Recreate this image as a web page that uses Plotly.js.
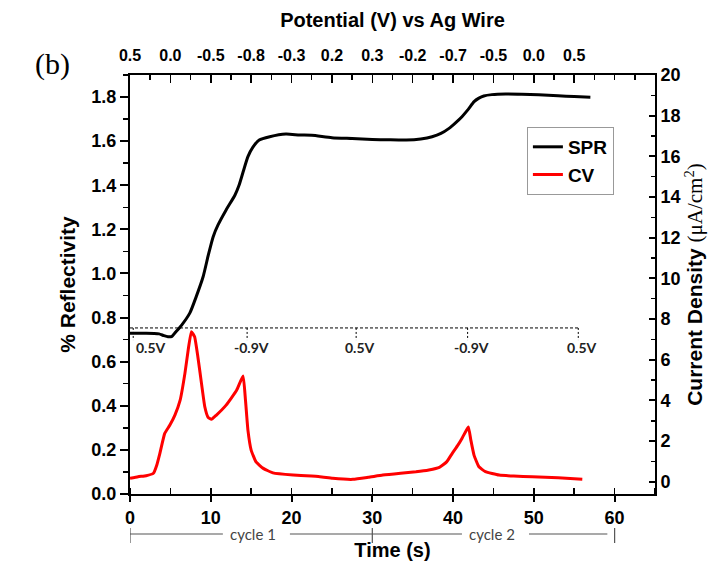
<!DOCTYPE html>
<html>
<head>
<meta charset="utf-8">
<script src="https://cdn.plot.ly/plotly-3.0.1.min.js"></script>
<style>html,body{margin:0;padding:0;background:#fff;}#chart{width:721px;height:561px;}</style>
</head>
<body>
<div id="chart"></div>
<script>
// SPR reflectivity (left axis) vs time
const sprTime = [0, 1, 2, 3, 3.6, 4.2, 4.7, 5.2, 5.6, 6.4, 7.4, 8.2, 9.05, 9.7, 10.3, 10.9, 11.9, 13.0, 13.5, 14.0, 14.6, 15.2, 16.0, 17.3, 19.3, 21, 22.5, 25, 27.5, 30, 32, 34.2, 36, 37.4, 38.5, 39.5, 40.3, 41.1, 41.9, 42.6, 43.2, 43.8, 44.8, 46.5, 48.5, 50.6, 53, 55, 57];
const sprValue = [0.729, 0.729, 0.729, 0.728, 0.726, 0.718, 0.713, 0.715, 0.732, 0.766, 0.82, 0.895, 0.985, 1.084, 1.167, 1.22, 1.288, 1.356, 1.40, 1.46, 1.53, 1.572, 1.605, 1.62, 1.632, 1.628, 1.627, 1.616, 1.612, 1.608, 1.606, 1.605, 1.610, 1.62, 1.635, 1.658, 1.683, 1.711, 1.745, 1.779, 1.795, 1.805, 1.811, 1.814, 1.813, 1.81, 1.806, 1.802, 1.799];

// CV current density (right axis) vs time
const cvTime = [0, 1, 2, 2.9, 3.3, 3.7, 4.3, 4.94, 5.56, 6.2, 6.8, 7.2, 7.6, 8.0, 8.4, 8.85, 9.26, 9.67, 10.08, 10.7, 11.9, 13.2, 14.0, 14.3, 14.6, 15.0, 15.6, 16.5, 17.7, 20.2, 23.5, 25.1, 27.6, 29.5, 31.3, 33.5, 35.4, 37, 38.3, 39.2, 39.9, 40.6, 41.1, 41.6, 41.9, 42.2, 42.6, 43.2, 44, 45.7, 47.5, 49.8, 53, 56];
const cvValue = [0.17, 0.25, 0.3, 0.42, 0.8, 1.4, 2.38, 2.79, 3.28, 4.0, 5.33, 6.47, 7.38, 7.13, 6.15, 4.84, 3.69, 3.17, 3.07, 3.28, 3.77, 4.5, 5.2, 4.0, 2.54, 1.56, 0.98, 0.66, 0.44, 0.33, 0.25, 0.17, 0.12, 0.22, 0.33, 0.42, 0.49, 0.58, 0.71, 0.98, 1.4, 1.8, 2.13, 2.5, 2.7, 2.05, 1.3, 0.74, 0.5, 0.33, 0.28, 0.25, 0.2, 0.13];

// Top axis: applied potential labels
const potentialTickTimes = [0, 5, 10, 15, 20, 25, 30, 35, 40, 45, 50, 55];
const potentialTickLabels = ['0.5', '0.0', '-0.5', '-0.8', '-0.3', '0.2', '0.3', '-0.2', '-0.7', '-0.5', '0.0', '0.5'];

// Dashed potential marker line
const markerLevel = 0.753;
const markerStart = 0;
const markerEnd = 55.5;
const markerTimes = [0.4, 14.5, 28, 41.8, 55.5];
const markerLabels = ['0.5V', '-0.9V', '0.5V', '-0.9V', '0.5V'];

// Cycle bracket below the time axis
const cycleBounds = [0, 30, 60];
const cycleLabels = ['cycle 1', 'cycle 2'];
const cycleLabelTimes = [15.2, 44.8];

const FONT = 'Liberation Sans, Arial, sans-serif';
const CAL = 'Lato, Carlito, sans-serif';

const traces = [
  {x: sprTime, y: sprValue, name: 'SPR', mode: 'lines', line: {color: '#000000', width: 3, shape: 'spline', smoothing: 0.6}, xaxis: 'x', yaxis: 'y'},
  {x: cvTime, y: cvValue, name: 'CV', mode: 'lines', line: {color: '#ff0000', width: 3, shape: 'spline', smoothing: 0.4}, xaxis: 'x', yaxis: 'y2'},
  {x: [markerStart, markerEnd], y: [markerLevel, markerLevel], name: 'potential marker', mode: 'lines', showlegend: false,
    hoverinfo: 'skip', line: {color: '#000', width: 1, dash: '3px,2px'}, xaxis: 'x2', yaxis: 'y'}
];

const shapes = [];
const annotations = [];
markerTimes.forEach((t, i) => {
  shapes.push({type: 'line', xref: 'x', yref: 'y', x0: t, x1: t, y0: markerLevel, y1: markerLevel - 0.055,
    line: {color: '#000', width: 1, dash: '2px,2px'}});
  annotations.push({xref: 'x', yref: 'y', x: t, y: markerLevel - 0.09, text: markerLabels[i], showarrow: false,
    xanchor: i === 0 ? 'left' : 'center', xshift: i === 0 ? 1 : 4,
    font: {family: CAL, size: 14, color: '#222', weight: 'bold'}});
});

const cy = -0.0955, cyt0 = -0.081, cyt1 = -0.117;
const gapL = 3.7, gapR = 4.6;
const segStarts = [cycleBounds[0], cycleLabelTimes[0] + gapR, cycleLabelTimes[1] + gapR];
const segEnds = [cycleLabelTimes[0] - gapL, cycleLabelTimes[1] - gapL, cycleBounds[2] - 0.9];
segStarts.forEach((s, i) => {
  shapes.push({type: 'line', xref: 'x', yref: 'paper', x0: s, x1: segEnds[i], y0: cy, y1: cy, line: {color: '#555', width: 1.2}});
});
cycleBounds.forEach(b => {
  shapes.push({type: 'line', xref: 'x', yref: 'paper', x0: b, x1: b, y0: cyt0, y1: cyt1, line: {color: '#555', width: 1.2}});
});
cycleLabels.forEach((lab, i) => {
  annotations.push({xref: 'x', yref: 'paper', x: cycleLabelTimes[i], y: cy, text: lab, showarrow: false,
    yanchor: 'middle', font: {family: CAL, size: 15, color: '#444'}});
});

annotations.push({xref: 'paper', yref: 'paper', x: -0.185, y: 1.072, text: '(b)', showarrow: false,
  font: {family: 'Liberation Serif, Times New Roman, serif', size: 30, color: '#000'}});

const tickFont = {family: FONT, size: 18, color: '#000', weight: 'bold'};
const titleFont = {family: FONT, size: 20, color: '#000', weight: 'bold'};

const layout = {
  width: 721, height: 561,
  margin: {l: 130, r: 66, t: 75, b: 67},
  paper_bgcolor: '#fff', plot_bgcolor: '#fff',
  showlegend: true,
  legend: {x: 0.756, y: 0.876, xanchor: 'left', yanchor: 'top', bgcolor: '#fff', bordercolor: '#999', borderwidth: 1,
    font: {family: FONT, size: 19, color: '#000', weight: 'bold'}, tracegroupgap: 0},
  xaxis: {range: [0, 65], tick0: 0, dtick: 10, ticks: 'outside', ticklen: 6, tickwidth: 2, tickcolor: '#000',
    minor: {dtick: 5, ticks: 'inside', ticklen: 6, tickwidth: 1.5, tickcolor: '#000'},
    showline: true, linewidth: 2, linecolor: '#000', showgrid: false, zeroline: false,
    tickfont: tickFont, title: {text: 'Time (s)', font: titleFont, standoff: 20}},
  xaxis2: {overlaying: 'x', anchor: 'y', side: 'top', range: [0, 65], tickmode: 'array',
    tickvals: potentialTickTimes, ticktext: potentialTickLabels, ticks: 'inside', ticklen: 8, tickwidth: 1.5, tickcolor: '#000',
    minor: {tick0: 0, dtick: 2.5, ticks: 'inside', ticklen: 5, tickwidth: 1.5, tickcolor: '#000'},
    showline: true, linewidth: 2, linecolor: '#000', showgrid: false, zeroline: false,
    ticklabelstandoff: 6,
    tickfont: {family: FONT, size: 16, color: '#000', weight: 'bold'},
    title: {text: 'Potential (V) vs Ag Wire', font: titleFont, standoff: 14}},
  yaxis: {range: [0, 1.9], tick0: 0, dtick: 0.2, tickformat: '.1f', ticks: 'outside', ticklen: 8, tickwidth: 2, tickcolor: '#000',
    minor: {dtick: 0.1, ticks: 'outside', ticklen: 5, tickwidth: 1.5, tickcolor: '#000'},
    showline: true, linewidth: 2, linecolor: '#000', showgrid: false, zeroline: false,
    tickfont: tickFont, title: {text: '% Reflectivity', font: {family: FONT, size: 21, color: '#000', weight: 'bold'}, standoff: 10}},
  yaxis2: {overlaying: 'y', anchor: 'x', side: 'right', range: [-0.6, 20], tick0: 0, dtick: 2,
    ticks: 'inside', ticklen: 6, tickwidth: 2, tickcolor: '#000',
    minor: {dtick: 1, ticks: 'inside', ticklen: 4, tickwidth: 1.5, tickcolor: '#000'},
    showline: true, linewidth: 2, linecolor: '#000', showgrid: false, zeroline: false,
    tickfont: tickFont,
    title: {text: 'Current Density <span style="font-family:Liberation Serif;font-weight:normal">(μA/cm<sup>2</sup>)</span>',
      font: {family: FONT, size: 21, color: '#000', weight: 'bold'}, standoff: 8}},
  shapes: shapes,
  annotations: annotations
};

Plotly.newPlot('chart', traces, layout, {displayModeBar: false, staticPlot: true});
</script>
</body>
</html>
